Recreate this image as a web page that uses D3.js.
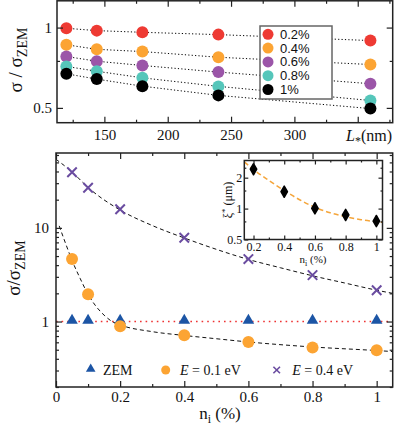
<!DOCTYPE html>
<html>
<head>
<meta charset="utf-8">
<script src="https://cdn.jsdelivr.net/npm/d3@7"></script>
<style>
  body { margin: 0; background: #fff; }
  svg { display: block; }
</style>
</head>
<body>
<svg id="chart" width="395" height="429"></svg>
<script>
// top panel: sigma/sigma_ZEM vs L* for each impurity concentration
const lengthsNm = [120, 144, 180, 240, 360]
const concLabels = ["0.2%", "0.4%", "0.6%", "0.8%", "1%"]
const concColors = ["#ee3a33", "#fca433", "#9b55a8", "#55c6ba", "#000000"]
const sigma02 = [0.994, 0.974, 0.960, 0.941, 0.894]
const sigma04 = [0.862, 0.829, 0.813, 0.774, 0.727]
const sigma06 = [0.779, 0.748, 0.721, 0.681, 0.616]
const sigma08 = [0.715, 0.686, 0.648, 0.602, 0.533]
const sigma10 = [0.671, 0.641, 0.603, 0.557, 0.497]
const topSeries = [sigma02, sigma04, sigma06, sigma08, sigma10]

const topXMajor = [150, 200, 250, 300, 350]
const topXLabels = ["150", "200", "250", "300", ""]
const topXMinor = [125, 175, 225, 275, 325, 375]
const topYMajor = [0.5, 1]
const topYLabels = ["0.5", "1"]
const topYMinor = [0.75]

// bottom panel: sigma/sigma_ZEM vs n_i
const impurity = [0.05, 0.1, 0.2, 0.4, 0.6, 0.8, 1.0]
const zemValues = [1, 1, 1, 1, 1, 1, 1]
const sigmaE01 = [4.64, 1.96, 0.891, 0.714, 0.605, 0.527, 0.493]
const sigmaE04 = [39.2, 26.8, 15.8, 7.84, 4.64, 3.13, 2.16]
// dashed fit curves
const fitE04N = [0, 0.05, 0.1, 0.2, 0.3, 0.4, 0.5, 0.6, 0.7, 0.8, 0.9, 1.0, 1.05]
const fitE04V = [54, 39.5, 27, 15.5, 10.6, 7.8, 5.9, 4.6, 3.75, 3.08, 2.58, 2.16, 2.0]
const fitE01N = [0.01, 0.03, 0.05, 0.075, 0.1, 0.125, 0.15, 0.175, 0.2, 0.3, 0.4, 0.5, 0.6, 0.8, 1.0, 1.05]
const fitE01V = [10.5, 6.8, 4.5, 2.9, 1.95, 1.45, 1.17, 1.0, 0.92, 0.78, 0.71, 0.655, 0.605, 0.535, 0.49, 0.478]

const botXMajor = [0, 0.2, 0.4, 0.6, 0.8, 1]
const botXLabels = ["0", "0.2", "0.4", "0.6", "0.8", "1"]
const botXMinor = [0.1, 0.3, 0.5, 0.7, 0.9]
const botYMajor = [1, 10]
const botYLabels = ["1", "10"]
const botYMinor = [0.2, 0.3, 0.4, 0.5, 0.6, 0.7, 0.8, 0.9, 2, 3, 4, 5, 6, 7, 8, 9, 20, 30, 40, 50, 60]

// inset: xi* vs n_i
const insetConc = [0.2, 0.4, 0.6, 0.8, 1.0]
const xiStar = [2.42, 1.46, 1.007, 0.867, 0.757]
const insetFitN = [0.14, 0.2, 0.3, 0.4, 0.5, 0.6, 0.7, 0.8, 0.9, 1.0, 1.04]
const insetFitV = [2.85, 2.4, 1.88, 1.5, 1.22, 1.03, 0.91, 0.835, 0.78, 0.745, 0.735]
const insetXMajor = [0.2, 0.4, 0.6, 0.8, 1]
const insetXLabels = ["0.2", "0.4", "0.6", "0.8", "1"]
const insetXMinor = [0.3, 0.5, 0.7, 0.9]
const insetYMajor = [0.5, 1, 2]
const insetYLabels = ["0.5", "1", "2"]
const insetYMinor = [0.75, 1.5, 2.5]

const svg = d3.select("#chart")
const serif = "'Liberation Serif', 'DejaVu Serif', serif"
const sans = "'Liberation Sans', Arial, sans-serif"
const frameColor = "#222"

// ticks on all four sides, pointing inward
function frameAxes(x, y, opt) {
  const [x0, x1] = x.range()
  const [y0, y1] = y.range() // y0 = bottom
  const major = opt.major || 6, minor = opt.minor || 3
  const addAxis = (gen, scale, vals, size, fmt, tx, ty, pad, fs) => {
    const g = svg.append("g").attr("transform", `translate(${tx},${ty})`)
      .call(gen(scale).tickValues(vals).tickSize(-size).tickPadding(pad).tickFormat(fmt))
    g.attr("font-family", null)
    g.select(".domain").remove()
    g.selectAll("line").attr("stroke", frameColor).attr("stroke-width", 1.2)
    g.selectAll("text").attr("fill", "#111").style("font-family", serif).style("font-size", fs + "px")
    return g
  }
  const none = () => ""
  addAxis(d3.axisBottom, x, opt.xMajor, major, (d, i) => opt.xLabels[i], 0, y0, opt.xPad, opt.fs)
  addAxis(d3.axisBottom, x, opt.xMinor, minor, none, 0, y0, 0, opt.fs)
  addAxis(d3.axisTop, x, opt.xMajor, major, none, 0, y1, 0, opt.fs)
  addAxis(d3.axisTop, x, opt.xMinor, minor, none, 0, y1, 0, opt.fs)
  addAxis(d3.axisLeft, y, opt.yMajor, major, (d, i) => opt.yLabels[i], x0, 0, opt.yPad, opt.fs)
  addAxis(d3.axisLeft, y, opt.yMinor, minor, none, x0, 0, 0, opt.fs)
  addAxis(d3.axisRight, y, opt.yMajor, major, none, x1, 0, 0, opt.fs)
  addAxis(d3.axisRight, y, opt.yMinor, minor, none, x1, 0, 0, opt.fs)
  svg.append("rect")
    .attr("x", x0).attr("y", y1).attr("width", x1 - x0).attr("height", y0 - y1)
    .attr("fill", "none").attr("stroke", frameColor).attr("stroke-width", 1.5)
}

function sigmaLabel(cx, cy, spaced) {
  const t = svg.append("text")
    .attr("transform", `translate(${cx},${cy}) rotate(-90)`)
    .attr("text-anchor", "middle")
    .style("font-family", serif).style("font-size", "19px").attr("fill", "#111")
  t.append("tspan").text(spaced ? "σ / σ" : "σ/σ")
  t.append("tspan").attr("dy", 5).style("font-size", "14px").text("ZEM")
}

// ---------- top panel ----------
const xTop = d3.scaleLinear().domain([112.6, 377.6]).range([57, 392.7])
const yTop = d3.scaleLog().domain([0.44, 1.26]).range([122.7, 0.8])

const dotLine = d3.line().x((d, i) => xTop(lengthsNm[i])).y(d => yTop(d))
topSeries.forEach(s => {
  svg.append("path").datum(s)
    .attr("d", dotLine)
    .attr("fill", "none").attr("stroke", "#000")
    .attr("stroke-width", 1).attr("stroke-dasharray", "1.2,2.2")
})

// legend box (covers the dotted lines)
const legTop = svg.append("g")
legTop.append("rect")
  .attr("x", 260).attr("y", 26).attr("width", 72).attr("height", 73)
  .attr("fill", "#fff").attr("stroke", "#666").attr("stroke-width", 1.5)

topSeries.forEach((s, k) => {
  svg.append("g").selectAll("circle")
    .data(s)
    .join("circle")
    .attr("cx", (d, i) => xTop(lengthsNm[i]))
    .attr("cy", d => yTop(d))
    .attr("r", 6)
    .attr("fill", concColors[k])
})

concLabels.forEach((lab, k) => {
  const ly = 34.3 + k * 13.8
  legTop.append("circle").attr("cx", 268).attr("cy", ly).attr("r", 5.5).attr("fill", concColors[k])
  legTop.append("text").attr("x", 280).attr("y", ly + 4.5)
    .style("font-family", sans).style("font-size", "13px").attr("fill", "#111").text(lab)
})

frameAxes(xTop, yTop, {
  xMajor: topXMajor, xLabels: topXLabels, xMinor: topXMinor,
  yMajor: topYMajor, yLabels: topYLabels, yMinor: topYMinor,
  xPad: 7, yPad: 5, fs: 15
})

const lLab = svg.append("text").attr("x", 392).attr("y", 141).attr("text-anchor", "end")
  .style("font-family", serif).style("font-size", "16px").attr("fill", "#111")
lLab.append("tspan").style("font-style", "italic").text("L")
lLab.append("tspan").attr("dy", 4).style("font-size", "12px").text("*")
lLab.append("tspan").attr("dy", -4).text("(nm)")

sigmaLabel(22, 60, true)

// ---------- bottom panel ----------
const xBot = d3.scaleLinear().domain([0, 1.05]).range([56, 392.7])
const yBot = d3.scaleLog().domain([0.2, 63]).range([387, 153])

svg.append("defs").append("clipPath").attr("id", "botClip")
  .append("rect").attr("x", 56).attr("y", 153).attr("width", 336.7).attr("height", 234)

// ZEM reference line
svg.append("line")
  .attr("x1", xBot(0)).attr("x2", xBot(1.05)).attr("y1", yBot(1)).attr("y2", yBot(1))
  .attr("stroke", "#ee3333").attr("stroke-width", 1.6).attr("stroke-dasharray", "1.6,4")

const fitLine = (ns) => d3.line().curve(d3.curveMonotoneX).x((d, i) => xBot(ns[i])).y(d => yBot(d))
svg.append("path").datum(fitE04V).attr("d", fitLine(fitE04N)).attr("clip-path", "url(#botClip)")
  .attr("fill", "none").attr("stroke", "#111").attr("stroke-width", 1).attr("stroke-dasharray", "4,3")
svg.append("path").datum(fitE01V).attr("d", fitLine(fitE01N)).attr("clip-path", "url(#botClip)")
  .attr("fill", "none").attr("stroke", "#111").attr("stroke-width", 1).attr("stroke-dasharray", "4,3")

const triColor = "#1c55a5", circColor = "#fca433", crossColor = "#6a4ca0"
const tri = d3.symbol().type(d3.symbolTriangle)
const cross = d3.symbol().type(d3.symbolX)

svg.append("g").selectAll("path")
  .data(zemValues)
  .join("path")
  .attr("transform", (d, i) => `translate(${xBot(impurity[i])},${yBot(d) - 1})`)
  .attr("d", tri.size(58)())
  .attr("fill", triColor)

svg.append("g").selectAll("circle")
  .data(sigmaE01)
  .join("circle")
  .attr("cx", (d, i) => xBot(impurity[i]))
  .attr("cy", d => yBot(d))
  .attr("r", 6)
  .attr("fill", circColor)

svg.append("g").selectAll("path")
  .data(sigmaE04)
  .join("path")
  .attr("transform", (d, i) => `translate(${xBot(impurity[i])},${yBot(d)})`)
  .attr("d", cross.size(60)())
  .attr("fill", "none").attr("stroke", crossColor).attr("stroke-width", 2)

frameAxes(xBot, yBot, {
  xMajor: botXMajor, xLabels: botXLabels, xMinor: botXMinor,
  yMajor: botYMajor, yLabels: botYLabels, yMinor: botYMinor,
  xPad: 4.5, yPad: 7, fs: 15
})

// bottom legend
const legBot = svg.append("g").style("font-family", serif).style("font-size", "14px").attr("fill", "#111")
const legY = 370
legBot.append("path").attr("transform", `translate(90.7,${legY - 1})`).attr("d", tri.size(40)()).attr("fill", triColor)
legBot.append("text").attr("x", 103).attr("y", legY + 5).text("ZEM")
legBot.append("circle").attr("cx", 165.7).attr("cy", legY).attr("r", 4.5).attr("fill", circColor)
const e1 = legBot.append("text").attr("x", 180).attr("y", legY + 5)
e1.append("tspan").style("font-style", "italic").text("E")
e1.append("tspan").text(" = 0.1 eV")
legBot.append("path").attr("transform", `translate(276.7,${legY})`).attr("d", cross.size(30)())
  .attr("fill", "none").attr("stroke", crossColor).attr("stroke-width", 1.6)
const e4 = legBot.append("text").attr("x", 292.3).attr("y", legY + 5)
e4.append("tspan").style("font-style", "italic").text("E")
e4.append("tspan").text(" = 0.4 eV")

const nLab = svg.append("text").attr("x", 220).attr("y", 419).attr("text-anchor", "middle")
  .style("font-family", serif).style("font-size", "17px").attr("fill", "#111")
nLab.append("tspan").text("n")
nLab.append("tspan").attr("dy", 4).style("font-size", "12px").text("i")
nLab.append("tspan").attr("dy", -4).text(" (%)")

sigmaLabel(20, 268, false)

// ---------- inset ----------
const xIn = d3.scaleLinear().domain([0.14, 1.04]).range([244.3, 382.5])
const yIn = d3.scaleLog().domain([0.5, 2.94]).range([239.5, 160.5])

svg.append("rect").attr("x", 244.3).attr("y", 160.5).attr("width", 138.2).attr("height", 79)
  .attr("fill", "#fff")

svg.append("path").datum(insetFitV)
  .attr("d", d3.line().curve(d3.curveMonotoneX).x((d, i) => xIn(insetFitN[i])).y(d => yIn(d)))
  .attr("fill", "none").attr("stroke", "#f5a53a").attr("stroke-width", 1.5).attr("stroke-dasharray", "5,3")

svg.append("g").selectAll("path")
  .data(xiStar)
  .join("path")
  .attr("transform", (d, i) => `translate(${xIn(insetConc[i])},${yIn(d)})`)
  .attr("d", d3.symbol().type(d3.symbolDiamond).size(36)())
  .attr("fill", "#000").attr("stroke", "#000").attr("stroke-width", 1.5).attr("stroke-linejoin", "round")

frameAxes(xIn, yIn, {
  xMajor: insetXMajor, xLabels: insetXLabels, xMinor: insetXMinor,
  yMajor: insetYMajor, yLabels: insetYLabels, yMinor: insetYMinor,
  xPad: 2.5, yPad: 2, fs: 12, major: 4, minor: 2
})

const niIn = svg.append("text").attr("x", 313).attr("y", 263).attr("text-anchor", "middle")
  .style("font-family", serif).style("font-size", "11px").attr("fill", "#111")
niIn.append("tspan").text("n")
niIn.append("tspan").attr("dy", 3).style("font-size", "8px").text("i")
niIn.append("tspan").attr("dy", -3).text(" (%)")

const xiLab = svg.append("text").attr("transform", "translate(232,200) rotate(-90)").attr("text-anchor", "middle")
  .style("font-family", serif).style("font-size", "12px").attr("fill", "#111")
xiLab.append("tspan").text("ξ")
xiLab.append("tspan").attr("dy", -4).style("font-size", "9px").text("*")
xiLab.append("tspan").attr("dy", 4).text(" (μm)")
</script>
</body>
</html>
